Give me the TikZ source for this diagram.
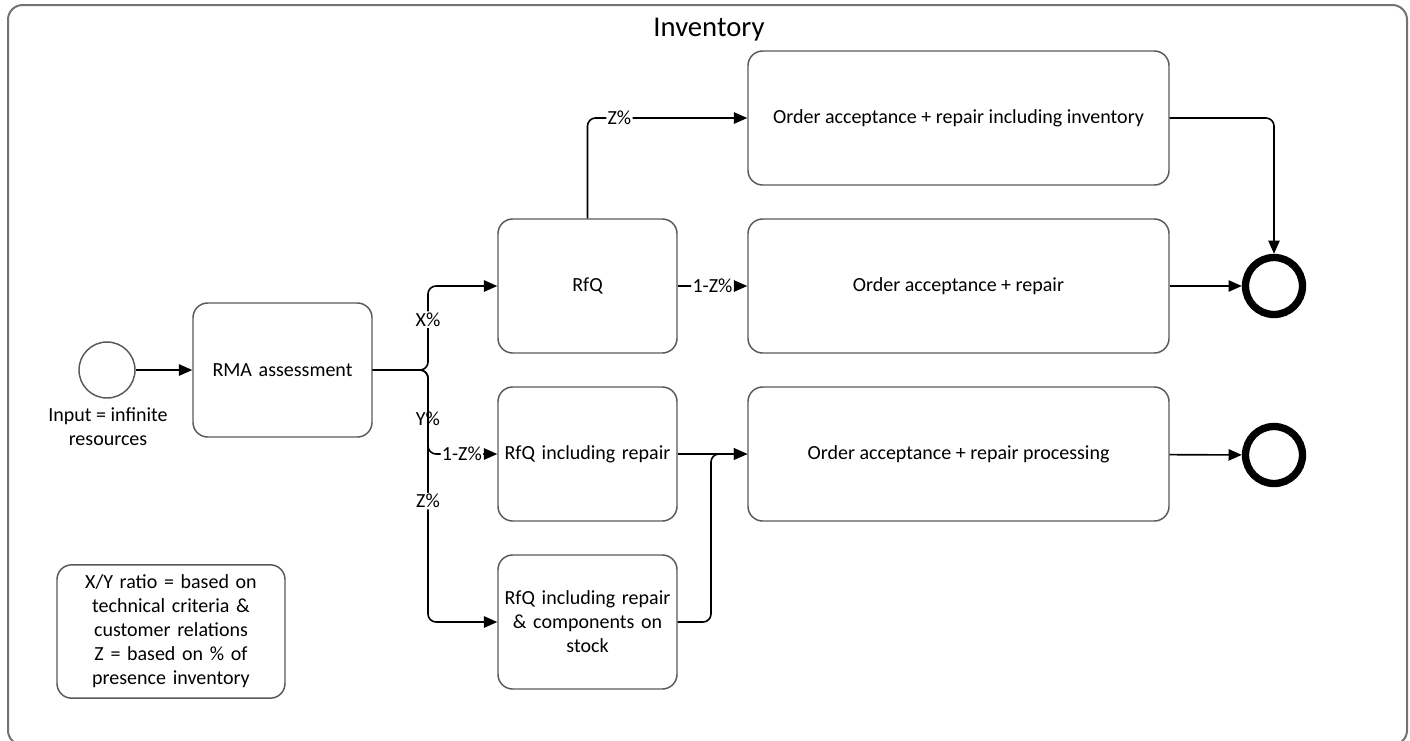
\documentclass[tikz,border=0pt]{standalone}
\usepackage{fontspec}
\setmainfont{Carlito}
\usetikzlibrary{arrows.meta}

\begin{document}
\begin{tikzpicture}[x=0.75pt,y=-0.75pt,
    >={Triangle[length=10pt,width=8.5pt]},
    task/.style={draw=black!65,line width=1.1pt,rounded corners=11pt,inner sep=2pt,
      minimum height=100.5pt,align=center,font=\fontsize{15}{18}\selectfont},
    small/.style={task,minimum width=134.25pt,text width=128pt},
    wide/.style={task,minimum width=315.75pt},
    flow/.style={->,line width=1.2pt,rounded corners=6pt},
    lbl/.style={fill=white,inner sep=1pt,font=\fontsize{15}{18}\selectfont},
    endev/.style={circle,draw,line width=5.5pt,minimum size=42.75pt,inner sep=0pt}]
        \useasboundingbox (0,0) rectangle (1410,740);
        \draw[black!55,line width=1.5pt,rounded corners=11pt] (8,5) rectangle (1407,745);

        \node[font=\fontsize{21.5}{24}\selectfont] (title) at (709,30) {Inventory};

        \node[circle,draw=black!65,line width=1.1pt,minimum size=42pt,inner sep=0pt] (start) at (107,370) {};
        \node[align=center,font=\fontsize{15}{18}\selectfont] (input) at (108,427) {Input = infinite\\resources};

        \node[small] (rma) at (282.5,370) {RMA assessment};
        \node[small] (rfq) at (587.5,286) {RfQ};
        \node[small] (rfqrep) at (587.5,454) {RfQ including repair};
        \node[small] (rfqstock) at (587.5,622) {RfQ including repair\\\& components on\\stock};
        \node[wide] (oainv) at (958.5,118) {Order acceptance + repair including inventory};
        \node[wide] (oarep) at (958.5,286) {Order acceptance + repair};
        \node[wide] (oaproc) at (958.5,454) {Order acceptance + repair processing};
        \node[endev] (endA) at (1274,286) {};
        \node[endev] (endB) at (1274,455) {};

        \node[task,minimum width=171pt,minimum height=100pt,text width=165pt] (note) at (171,631.5)
          {X/Y ratio = based on\\technical criteria \&\\customer relations\\Z = based on \% of\\presence inventory};

        \coordinate (split) at (428,370);
        \coordinate (merge) at (711,454);

        \draw[flow] (start) -- (rma);
        \draw[flow] (rma.east) -- (split) |- node[lbl,pos=0.3]{X\%} (rfq.west);
        \draw[flow] (rma.east) -- (split) |- node[lbl,pos=0.29]{Y\%} node[lbl,pos=0.745]{1-Z\%} (rfqrep.west);
        \draw[flow] (rma.east) -- (split) |- node[lbl,pos=0.26]{Z\%} (rfqstock.west);

        \draw[flow] (rfq.north) |- node[lbl,pos=0.6]{Z\%} (oainv.west);
        \draw[flow] (rfq) -- node[lbl]{1-Z\%} (oarep);
        \draw[flow] (rfqrep) -- (oaproc);
        \draw[flow] (rfqstock.east) -| (merge) -- (oaproc.west);

        \draw[flow] (oainv.east) -| (endA.north);
        \draw[flow] (oarep) -- (endA);
        \draw[flow] (oaproc) -- (endB);
      \end{tikzpicture}
\end{document}
